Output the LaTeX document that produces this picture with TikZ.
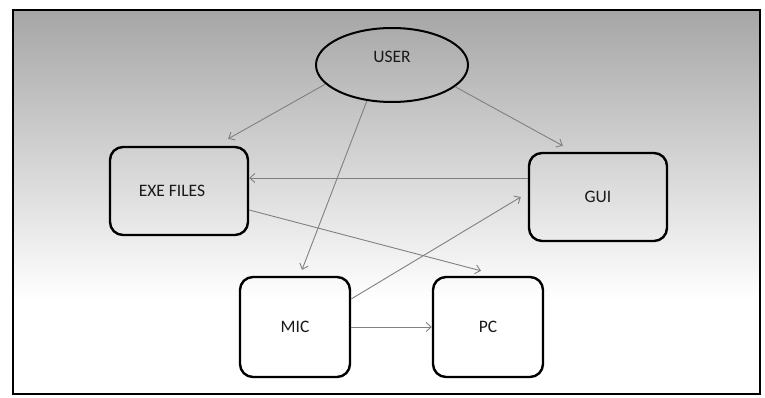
\documentclass[tikz,border=0pt]{standalone}
\usepackage{fontspec}
\setmainfont{Carlito}
\usetikzlibrary{shapes.geometric,arrows.meta}

\tikzset{
  block/.style={draw, line width=2.4pt, rounded corners=13pt, minimum width=138pt, minimum height=88pt, font=\fontsize{17.5}{20}\selectfont, text=black!90},
  smallblock/.style={block, minimum width=110pt, minimum height=100pt},
  actor/.style={draw, ellipse, line width=2pt, minimum width=152pt, minimum height=74pt, font=\fontsize{17.5}{20}\selectfont, text=black!90, text depth=16pt},
  link/.style={->, >={Straight Barb[length=5pt,width=9pt]}, draw=black!50, line width=0.9pt}
}

\begin{document}
\begin{tikzpicture}[x=1pt,y=-1pt]
	\useasboundingbox (0,0) rectangle (765,398);
	% backdrop and frame
	\shade[top color=black!35, bottom color=white] (13,10) rectangle (760,300);
	\draw[line width=1.2pt] (13,10) rectangle (760,394);

	\node[actor] at (392,65) (user) {USER};
	\node[block] at (179,191) (exe) {EXE FILES\hspace*{14pt}};
	\node[block] at (598,197) (gui) {GUI};
	\node[smallblock] at (295,327) (mic) {MIC};
	\node[smallblock] at (488,327) (pc) {PC};

	\draw[link] (user.196) -- ([shift={(-21,-7)}]exe.north east);
	\draw[link] (user.235) -- ([shift={(7,-6)}]mic.north);
	\draw[link] (user.-19) -- ([shift={(35,-6)}]gui.north west);
	\draw[link] ([yshift=19pt]gui.west) -- ([yshift=13pt]exe.east);
	\draw[link] ([yshift=-19pt]exe.east) -- ([shift={(-7,-5)}]pc.north);
	\draw[link] ([yshift=28pt]mic.east) -- ([xshift=-7pt]gui.west);
	\draw[link] (mic) -- (pc);
\end{tikzpicture}
\end{document}
